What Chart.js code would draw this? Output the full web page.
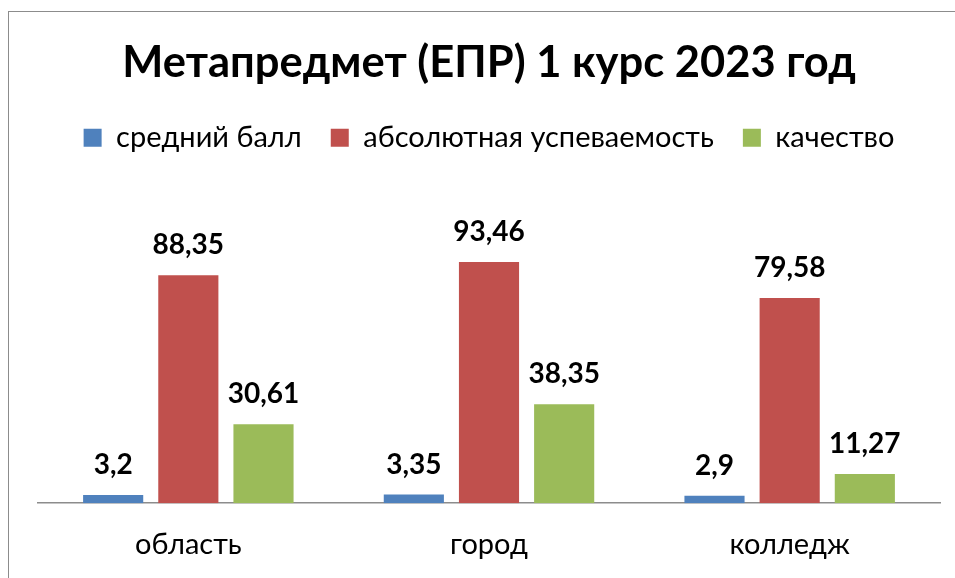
<!DOCTYPE html>
<html lang="ru">
<head>
    <meta charset="UTF-8">
    <title>Метапредмет (ЕПР) 1 курс 2023 год</title>
    <script src="https://cdn.jsdelivr.net/npm/chart.js"></script>
    <style>
        html, body {
            margin: 0;
            padding: 0;
            width: 955px;
            height: 578px;
            overflow: hidden;
            background: #fff;
        }
        .frame {
            position: absolute;
            left: 8px;
            top: 11px;
            width: 962px;
            height: 590px;
            border-left: 1.5px solid #8c8c8c;
            border-top: 1.5px solid #8c8c8c;
        }
        canvas {
            position: absolute;
            left: 0;
            top: 0;
        }
    </style>
</head>
<body>
    <div class="frame">
        <canvas id="myChart" width="962" height="590"></canvas>
    </div>

    <script>
        // Данные
        const categories = ['область', 'город', 'колледж'];
        const srednijBall = [3.2, 3.35, 2.9];
        const uspevaemost = [88.35, 93.46, 79.58];
        const kachestvo = [30.61, 38.35, 11.27];

        const fontFamily = 'Lato, "Open Sans", sans-serif';

        // подписи значений над столбцами
        const valueLabels = {
            id: 'valueLabels',
            afterDatasetsDraw(chart) {
                const ctx = chart.ctx;
                ctx.save();
                ctx.font = 'bold 28px ' + fontFamily;
                ctx.fillStyle = '#000';
                ctx.textAlign = 'center';
                ctx.textBaseline = 'alphabetic';
                chart.data.datasets.forEach((ds, i) => {
                    const meta = chart.getDatasetMeta(i);
                    meta.data.forEach((bar, j) => {
                        const txt = String(ds.data[j]).replace('.', ',');
                        ctx.fillText(txt, bar.x, bar.y - 21);
                    });
                });
                ctx.restore();
            }
        };

        // место под легендой (для подписей значений)
        const legendSpace = {
            id: 'legendSpace',
            afterInit(chart) {
                const legend = chart.legend;
                const fit = legend.fit;
                legend.fit = function () {
                    fit.call(this);
                    this.height += 83;
                };
            }
        };

        const myChart = new Chart(document.getElementById('myChart'), {
            type: 'bar',
            data: {
                labels: categories,
                datasets: [
                    { label: 'средний балл', data: srednijBall, backgroundColor: '#4F81BD' },
                    { label: 'абсолютная успеваемость', data: uspevaemost, backgroundColor: '#C0504D' },
                    { label: 'качество', data: kachestvo, backgroundColor: '#9BBB59' }
                ]
            },
            options: {
                responsive: false,
                animation: false,
                layout: {
                    padding: { left: 29, right: 31, top: 0, bottom: 24 }
                },
                datasets: {
                    bar: { barPercentage: 0.8, categoryPercentage: 0.75 }
                },
                plugins: {
                    tooltip: { enabled: false },
                    title: {
                        display: true,
                        text: 'Метапредмет (ЕПР) 1 курс 2023 год',
                        color: '#000',
                        font: { family: fontFamily, size: 43.5, weight: 'bold' },
                        padding: { top: 25, bottom: 5 }
                    },
                    legend: {
                        display: true,
                        labels: {
                            color: '#000',
                            font: { family: fontFamily, size: 29 },
                            boxWidth: 18,
                            boxHeight: 18,
                            padding: 29
                        }
                    }
                },
                scales: {
                    x: {
                        grid: { display: false },
                        border: { display: true, color: '#8c8c8c', width: 1.5 },
                        ticks: {
                            color: '#000',
                            padding: 16,
                            font: { family: fontFamily, size: 29 }
                        }
                    },
                    y: {
                        display: false,
                        min: 0,
                        max: 100
                    }
                }
            },
            plugins: [valueLabels, legendSpace]
        });
    </script>
</body>
</html>
